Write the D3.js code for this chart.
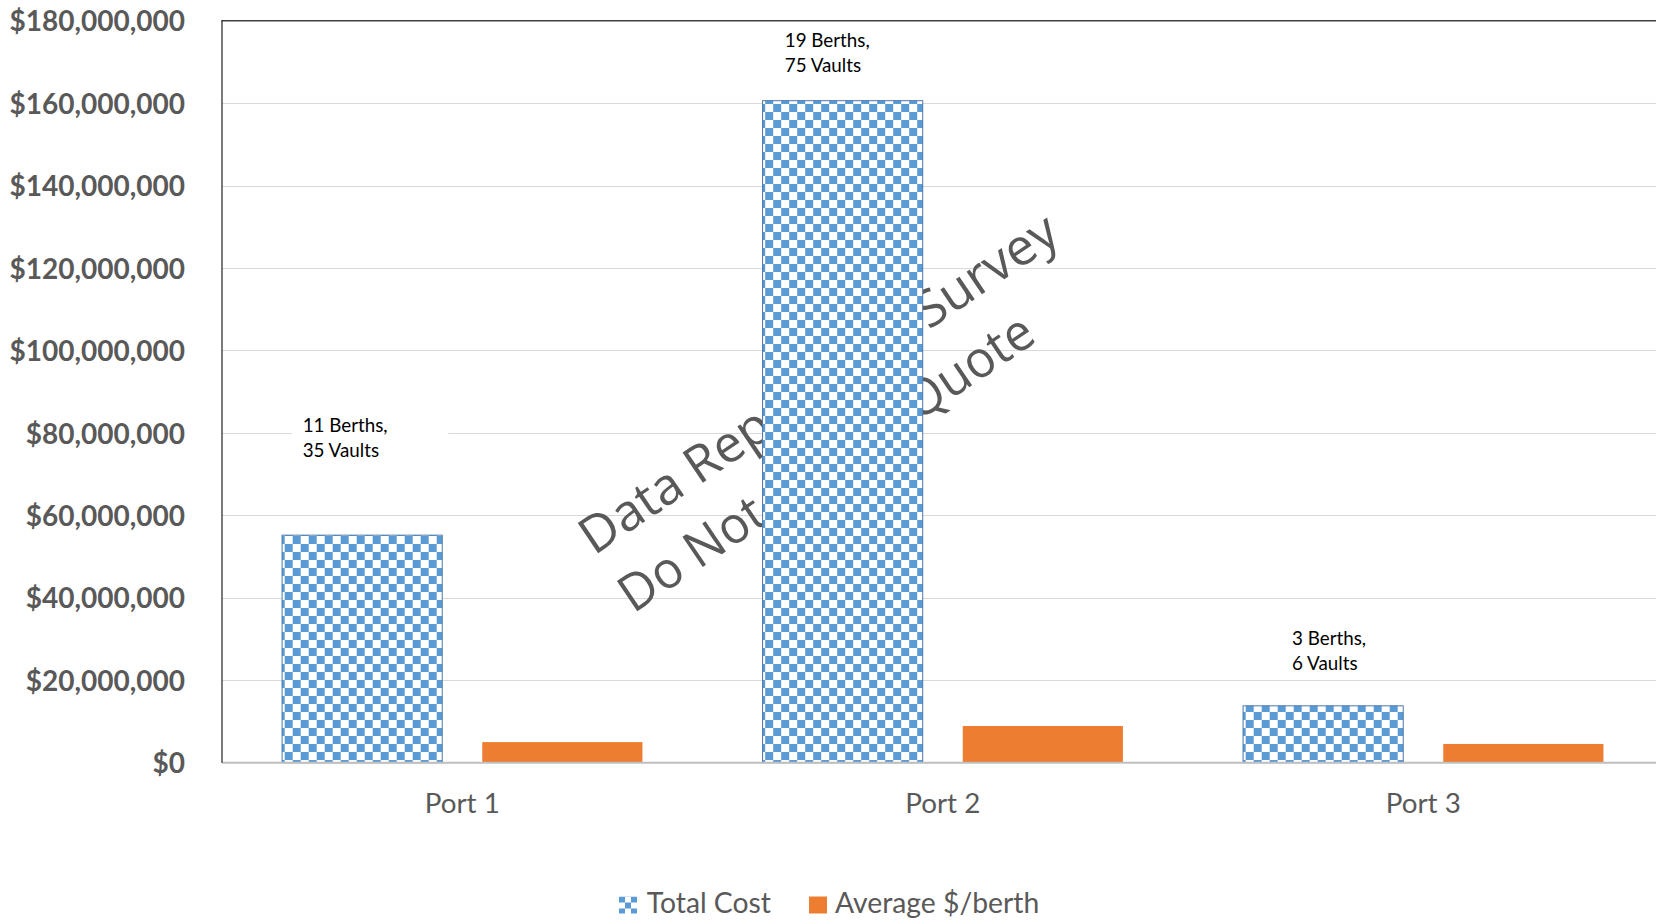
<!DOCTYPE html>
<html>
<head>
<meta charset="utf-8">
<script src="https://cdn.jsdelivr.net/npm/d3@7"></script>
<style>
  html, body { margin: 0; padding: 0; background: #fff; }
  svg { display: block; }
</style>
</head>
<body>
<svg id="chart" width="1656" height="921"></svg>
<script>
// ---- data ----
const categories = ["Port 1", "Port 2", "Port 3"];
const seriesNames = ["Total Cost", "Average $/berth"];
const totalCost = [55200000, 160600000, 13800000];
const avgPerBerth = [5000000, 8900000, 4550000];
const noteLines = [
  ["11 Berths,", "35 Vaults"],
  ["19 Berths,", "75 Vaults"],
  ["3 Berths,", "6 Vaults"]
];
const yTicks = [0, 20e6, 40e6, 60e6, 80e6, 100e6, 120e6, 140e6, 160e6, 180e6];
const watermarkLines = ["Data Report - All Survey", "Do Not Cite or Quote"];

// ---- layout ----
const W = 1656, H = 921;
const plot = { left: 222, top: 20.7, bottom: 762.7, step: 480.5 };
const BLUE = "#5b9bd5", ORANGE = "#ed7d31", TEXT = "#595959";

const svg = d3.select("#chart");

const x0 = d3.scaleBand()
  .domain(categories)
  .range([plot.left, plot.left + plot.step * categories.length])
  .padding(0);
const x1 = d3.scaleBand()
  .domain(seriesNames)
  .range([0, x0.bandwidth()])
  .paddingInner(0.2)
  .paddingOuter(0.3);
const y = d3.scaleLinear().domain([0, 180e6]).range([plot.bottom, plot.top]);

// checkerboard fills
const defs = svg.append("defs");
const checker = defs.append("pattern")
  .attr("id", "checker").attr("patternUnits", "userSpaceOnUse")
  .attr("x", 286.7).attr("y", 0).attr("width", 16).attr("height", 16);
checker.append("rect").attr("width", 16).attr("height", 16).attr("fill", "#fff");
checker.append("rect").attr("width", 8).attr("height", 8).attr("fill", BLUE);
checker.append("rect").attr("x", 8).attr("y", 8).attr("width", 8).attr("height", 8).attr("fill", BLUE);

const checkerSmall = defs.append("pattern")
  .attr("id", "checkerSmall").attr("patternUnits", "userSpaceOnUse")
  .attr("x", 619).attr("y", 896.5).attr("width", 12).attr("height", 12);
checkerSmall.append("rect").attr("width", 12).attr("height", 12).attr("fill", "#fff");
checkerSmall.append("rect").attr("width", 6).attr("height", 6).attr("fill", BLUE);
checkerSmall.append("rect").attr("x", 6).attr("y", 6).attr("width", 6).attr("height", 6).attr("fill", BLUE);

// gridlines
svg.append("g")
  .selectAll("line")
  .data(yTicks.filter(d => d > 0 && d < 180e6))
  .join("line")
  .attr("x1", plot.left).attr("x2", W)
  .attr("y1", d => Math.round(y(d)) + 0.5).attr("y2", d => Math.round(y(d)) + 0.5)
  .attr("stroke", "#d9d9d9").attr("stroke-width", 1.2);

// y axis labels
const yAxis = d3.axisLeft(y)
  .tickValues(yTicks)
  .tickSize(0)
  .tickPadding(0)
  .tickFormat(d => "$" + d3.format(",")(d));
const yg = svg.append("g")
  .attr("transform", `translate(185,0)`)
  .call(yAxis);
yg.select(".domain").remove();
yg.selectAll("text")
  .attr("font-family", "Lato, sans-serif")
  .attr("font-weight", "bold")
  .attr("font-size", 28)
  .attr("fill", TEXT)
  .attr("dy", "0.36em");

// watermark, sitting behind the bars
const wm = svg.append("g")
  .attr("transform", "translate(594,556) rotate(-34)")
  .attr("font-family", "'Open Sans', sans-serif")
  .attr("font-size", 51)
  .attr("fill", "#595959");
wm.append("text").attr("x", 0).attr("y", 0)
  .attr("textLength", 565).attr("lengthAdjust", "spacingAndGlyphs")
  .text(watermarkLines[0]);
wm.append("text").attr("x", 0).attr("y", 70)
  .attr("textLength", 489).attr("lengthAdjust", "spacingAndGlyphs")
  .text(watermarkLines[1]);

// bars
const rows = categories.map((c, i) => ({ cat: c, values: [totalCost[i], avgPerBerth[i]] }));
const groups = svg.append("g").selectAll("g")
  .data(rows).join("g")
  .attr("transform", d => `translate(${x0(d.cat)},0)`);
groups.selectAll("rect")
  .data(d => d.values.map((v, j) => ({ key: seriesNames[j], v })))
  .join("rect")
  .attr("x", d => x1(d.key))
  .attr("width", x1.bandwidth())
  .attr("y", d => y(d.v))
  .attr("height", d => y(0) - y(d.v))
  .attr("fill", d => d.key === "Total Cost" ? "url(#checker)" : ORANGE)
  .attr("stroke", d => d.key === "Total Cost" ? "#4a78a8" : "none")
  .attr("stroke-width", 1);

// plot frame: left and top edges, category baseline
svg.append("line")
  .attr("x1", plot.left).attr("x2", W).attr("y1", plot.bottom).attr("y2", plot.bottom)
  .attr("stroke", "#bfbfbf").attr("stroke-width", 2);
svg.append("line")
  .attr("x1", plot.left - 0.75).attr("x2", W).attr("y1", plot.top).attr("y2", plot.top)
  .attr("stroke", "#404040").attr("stroke-width", 1.6);
svg.append("line")
  .attr("x1", plot.left).attr("x2", plot.left).attr("y1", plot.top).attr("y2", plot.bottom)
  .attr("stroke", "#202020").attr("stroke-width", 1.2);

// x axis labels
const xAxis = d3.axisBottom(x0).tickSize(0).tickPadding(0);
const xg = svg.append("g").attr("transform", `translate(0,${plot.bottom})`).call(xAxis);
xg.select(".domain").remove();
xg.selectAll("text")
  .attr("font-family", "Lato, sans-serif")
  .attr("font-size", 27.8)
  .attr("fill", TEXT)
  .attr("dy", 0)
  .attr("y", 50);

// berth / vault notes above the total-cost bars
const noteOffsets = [
  { dx: 20.6, dy: -103, boxW: 156 },
  { dx: 22.2, dy: -53.7, boxW: 150 },
  { dx: 49, dy: -60.7, boxW: 120 }
];
const notes = svg.append("g").selectAll("g")
  .data(rows).join("g")
  .attr("transform", (d, i) => {
    const bx = x0(d.cat) + x1("Total Cost") + noteOffsets[i].dx;
    const by = y(totalCost[i]) + noteOffsets[i].dy;
    return `translate(${bx},${by})`;
  });
notes.append("rect")
  .attr("x", -10.6).attr("y", -24)
  .attr("width", (d, i) => noteOffsets[i].boxW)
  .attr("height", 58)
  .attr("fill", "#fff");
notes.append("text")
  .attr("font-family", "Lato, sans-serif")
  .attr("font-size", 18.8)
  .attr("fill", "#000")
  .selectAll("tspan")
  .data((d, i) => noteLines[i])
  .join("tspan")
  .attr("x", 0)
  .attr("y", (d, k) => k * 25)
  .text(d => d);

// legend
const legend = svg.append("g").attr("font-family", "Lato, sans-serif")
  .attr("font-size", 28.3).attr("fill", TEXT);
const legendItems = [
  { name: seriesNames[0], fill: "url(#checkerSmall)", sx: 619, tx: 646.7 },
  { name: seriesNames[1], fill: ORANGE, sx: 809, tx: 835 }
];
legendItems.forEach(it => {
  legend.append("rect").attr("x", it.sx).attr("y", 896.5)
    .attr("width", 18).attr("height", 17).attr("fill", it.fill);
  legend.append("text").attr("x", it.tx).attr("y", 913.3).text(it.name);
});
</script>
</body>
</html>
